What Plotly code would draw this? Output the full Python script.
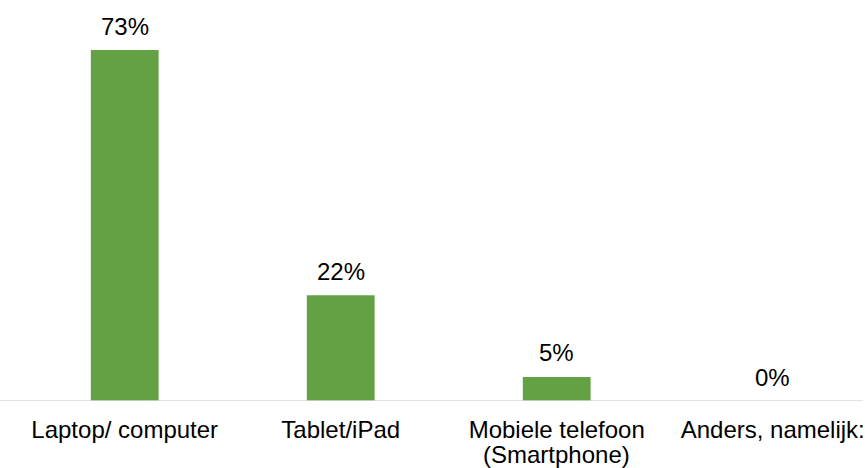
import plotly.graph_objects as go

categories = ["Laptop/ computer", "Tablet/iPad", "Mobiele telefoon (Smartphone)", "Anders, namelijk:"]
label_lines = [["Laptop/ computer"], ["Tablet/iPad"], ["Mobiele telefoon", "(Smartphone)"], ["Anders, namelijk:"]]
values = [73, 22, 5, 0]
value_labels = ["73%", "22%", "5%", "0%"]

bar_color = "#64A044"
font_family = "Liberation Sans, Arial, sans-serif"
font_size = 24

fig = go.Figure(
    go.Bar(
        x=categories,
        y=values,
        marker=dict(color=bar_color, line=dict(width=0)),
        hoverinfo="skip",
    )
)

# Value labels above each bar
for cat, val, lab in zip(categories, values, value_labels):
    fig.add_annotation(
        x=cat, y=val, text=lab, showarrow=False,
        yanchor="middle", yshift=24,
        font=dict(family=font_family, size=font_size, color="#000000"),
    )

# Second lines of wrapped category labels, set with tighter line spacing
for cat, lines in zip(categories, label_lines):
    for i, line in enumerate(lines[1:], start=1):
        fig.add_annotation(
            x=cat, y=0, text=line, showarrow=False,
            yanchor="middle", yshift=-27 - 26 * i,
            font=dict(family=font_family, size=font_size, color="#000000"),
        )

fig.update_layout(
    width=865, height=468,
    margin=dict(l=0, r=0, t=0, b=67),
    paper_bgcolor="white", plot_bgcolor="white",
    bargap=0.686,
    showlegend=False,
    font=dict(family=font_family, size=font_size, color="#000000"),
    xaxis=dict(
        range=[-0.5, 3.418],
        domain=[16.75 / 865, 1.0],
        showgrid=False, zeroline=False,
        showline=False,
        ticks="", ticklabelstandoff=12,
        tickmode="array",
        tickvals=categories,
        ticktext=[lines[0] for lines in label_lines],
        tickfont=dict(family=font_family, size=font_size, color="#000000"),
    ),
    yaxis=dict(
        range=[0, 83.4],
        visible=False,
        showgrid=False,
        zeroline=False,
    ),
)

# Category axis baseline
fig.add_shape(
    type="line", xref="paper", yref="y",
    x0=0, x1=1, y0=0, y1=0,
    line=dict(color="#D9D9D9", width=1.5),
)

fig.write_html("out.html")
